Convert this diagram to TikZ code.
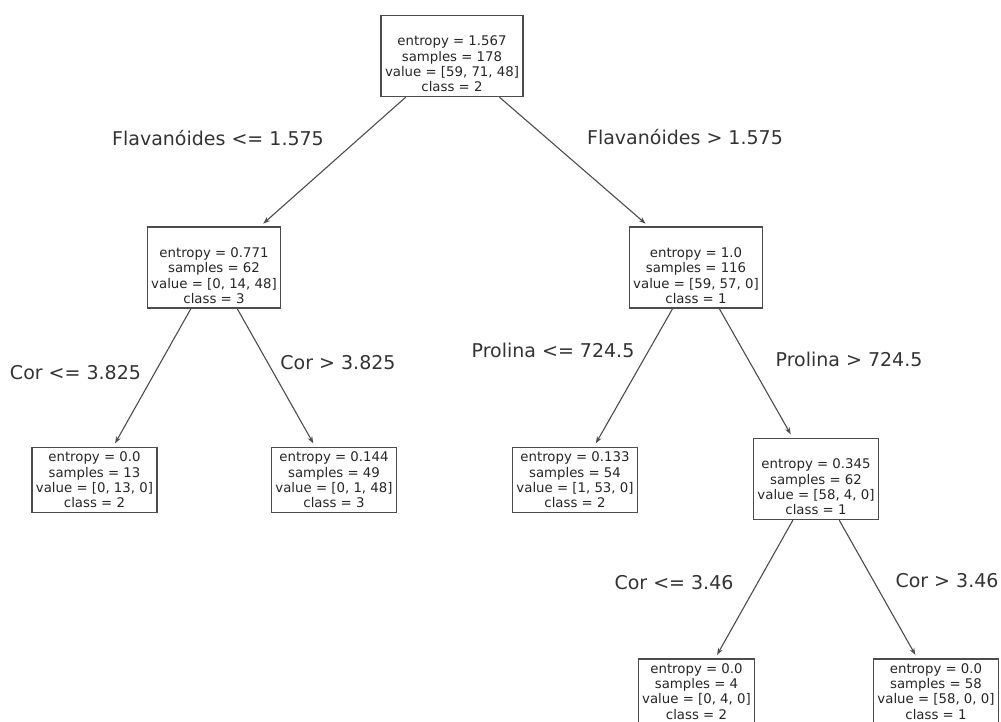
\documentclass[tikz,border=0pt]{standalone}
\usepackage{fontspec}
\setmainfont{DejaVu Sans}
\usetikzlibrary{arrows.meta}

\begin{document}
\begin{tikzpicture}[
        x=1pt, y=-1pt,
        font=\fontsize{13.3}{15.3}\selectfont,
        >={Stealth[length=7pt, width=5pt]},
        line width=1.1pt,
        split/.style={
            draw=black!70,
            fill=white,
            line width=1.3pt,
            text=black!85,
            align=center,
            inner xsep=4pt,
            inner ysep=4.5pt
        },
        leaf/.style={split},
        edge/.style={->, draw=black!70, shorten >=4pt},
        cond/.style={
            text=black!80,
            font=\fontsize{19}{22}\selectfont,
            inner sep=0pt
        }
    ]

        \useasboundingbox (0,0) rectangle (1001,722);

        \node[split] (root) at (452,56) {\strut\\entropy = 1.567\\samples = 178\\value = [59, 71, 48]\\class = 2};
        \node[split] (flavLow) at (214,267.5) {\strut\\entropy = 0.771\\samples = 62\\value = [0, 14, 48]\\class = 3};
        \node[split] (flavHigh) at (696,267.5) {\strut\\entropy = 1.0\\samples = 116\\value = [59, 57, 0]\\class = 1};
        \node[leaf] (corLowA) at (94.5,480) {entropy = 0.0\\samples = 13\\value = [0, 13, 0]\\class = 2};
        \node[leaf] (corHighA) at (334,480) {entropy = 0.144\\samples = 49\\value = [0, 1, 48]\\class = 3};
        \node[leaf] (proLow) at (575,480) {entropy = 0.133\\samples = 54\\value = [1, 53, 0]\\class = 2};
        \node[split] (proHigh) at (816,479) {\strut\\entropy = 0.345\\samples = 62\\value = [58, 4, 0]\\class = 1};
        \node[leaf] (corLowB) at (696.5,691.5) {entropy = 0.0\\samples = 4\\value = [0, 4, 0]\\class = 2};
        \node[leaf] (corHighB) at (936,691.5) {entropy = 0.0\\samples = 58\\value = [58, 0, 0]\\class = 1};

        \draw[edge] (root) -- (flavLow);
        \draw[edge] (root) -- (flavHigh);
        \draw[edge] (flavLow) -- (corLowA);
        \draw[edge] (flavLow) -- (corHighA);
        \draw[edge] (flavHigh) -- (proLow);
        \draw[edge] (flavHigh) -- (proHigh);
        \draw[edge] (proHigh) -- (corLowB);
        \draw[edge] (proHigh) -- (corHighB);

        \node[cond] (lblFlavLow) at (218,138) {Flavanóides <= 1.575};
        \node[cond] (lblFlavHigh) at (685,137) {Flavanóides > 1.575};
        \node[cond] (lblCorLowA) at (75.5,373) {Cor <= 3.825};
        \node[cond] (lblCorHighA) at (338,363) {Cor > 3.825};
        \node[cond] (lblProLow) at (553,350) {Prolina <= 724.5};
        \node[cond] (lblProHigh) at (849,359) {Prolina > 724.5};
        \node[cond] (lblCorLowB) at (674,583) {Cor <= 3.46};
        \node[cond] (lblCorHighB) at (947,581) {Cor > 3.46};

    \end{tikzpicture}
\end{document}
